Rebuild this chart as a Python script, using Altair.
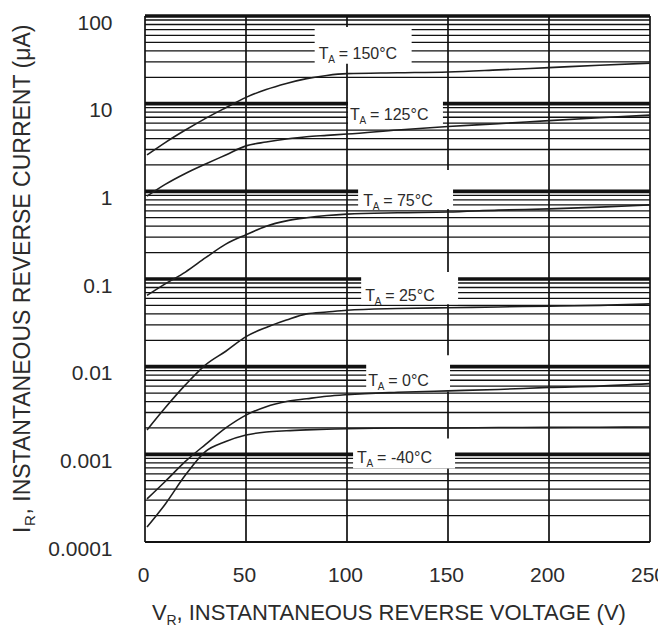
import altair as alt
import pandas as pd

# ---- data -------------------------------------------------------------------
volts = [1, 10, 20, 30, 40, 50, 60, 70, 80, 90, 100, 125, 150, 175, 200, 225, 250]
i_150 = [2.6, 3.6, 5.0, 6.8, 9.0, 11.8, 14.5, 17.0, 19.3, 21.0, 22.0, 22.5, 23.0, 24.3, 25.8, 27.4, 29.0]
i_125 = [0.88, 1.2, 1.6, 2.05, 2.6, 3.3, 3.65, 3.95, 4.2, 4.35, 4.5, 5.0, 5.5, 5.9, 6.4, 6.9, 7.4]
i_75 = [0.065, 0.088, 0.12, 0.175, 0.25, 0.32, 0.40, 0.46, 0.50, 0.53, 0.55, 0.57, 0.58, 0.61, 0.63, 0.66, 0.70]
i_25 = [0.0019, 0.0034, 0.0062, 0.0105, 0.015, 0.022, 0.028, 0.034, 0.040, 0.042, 0.044, 0.046, 0.047, 0.048, 0.049, 0.050, 0.052]
i_0 = [0.00031, 0.00049, 0.00083, 0.0013, 0.0020, 0.0028, 0.0035, 0.0040, 0.0043, 0.0046, 0.0048, 0.0051, 0.0053, 0.0055, 0.0058, 0.0060, 0.0064]
i_m40 = [0.000148, 0.00027, 0.00058, 0.00108, 0.0014, 0.00166, 0.0018, 0.00186, 0.0019, 0.00193, 0.00196, 0.0020, 0.0020, 0.00202, 0.00203, 0.00204, 0.00205]
temps = ["150", "125", "75", "25", "0", "-40"]
series = [i_150, i_125, i_75, i_25, i_0, i_m40]

# curve labels (T_A = ...) and the white boxes behind them
label_rest = ["= 150°C", "= 125°C", "= 75°C", "= 25°C", "= 0°C", "= -40°C"]
label_v = [86, 101.5, 108, 109, 110.5, 105]
label_i = [36.8, 7.41, 0.773, 0.0637, 0.00681, 0.0009]
box_v0 = [84, 100.5, 105.5, 107, 109.5, 103]
box_v1 = [132, 147.5, 152.5, 155, 151, 153.5]
box_top = [75, 10.7, 1.75, 0.12, 0.0135, 0.00152]
box_bottom = [28.5, 5.26, 0.627, 0.0515, 0.0052, 0.00069]

x_ticks = [0, 50, 100, 150, 200, 250]
y_ticks = [0.0001, 0.001, 0.01, 0.1, 1, 10, 100]
minor_vals = [m * 10.0 ** e for e in range(-4, 2) for m in range(2, 10)]
decade_vals = [0.001, 0.01, 0.1, 1, 10, 100]
bottom_vals = [0.0001]

# ---- tables ------------------------------------------------------------------
rows = []
for t, vals in zip(temps, series):
    for v, i in zip(volts, vals):
        rows.append({"temp": t, "v": v, "i": i})
curves_df = pd.DataFrame(rows)
labels_df = pd.DataFrame({"rest": label_rest, "v": label_v, "i": label_i})
boxes_df = pd.DataFrame({"v": box_v0, "v1": box_v1, "i": box_top, "i1": box_bottom})

FONT = "Liberation Sans"
INK = "#111111"
TXT = "#2b2b2b"

x_scale = alt.Scale(domain=[0, 250], nice=False, zero=False)
y_scale = alt.Scale(type="log", domain=[0.0001, 100], nice=False)

x_axis = alt.Axis(values=x_ticks, title=None, domain=False, ticks=False, tickSize=0,
                  grid=False, labelFont=FONT, labelFontSize=21, labelColor=TXT,
                  labelPadding=22, labelOffset=-2, labelFlush=False, labelOverlap=False,
                  labelBound=False)
y_axis = alt.Axis(values=y_ticks, format=".4~f", title=None, domain=False, ticks=False,
                  tickSize=0, grid=False, labelFont=FONT, labelFontSize=21, labelColor=TXT,
                  labelPadding=33, labelOffset=7, labelOverlap=False, labelBound=False)

X = alt.X("v:Q", scale=x_scale, axis=x_axis)
Y = alt.Y("i:Q", scale=y_scale, axis=y_axis)

grid_minor = alt.Chart(pd.DataFrame({"i": minor_vals})).mark_rule(
    color=INK, strokeWidth=1.3).encode(y=Y)
grid_decade = alt.Chart(pd.DataFrame({"i": decade_vals})).mark_rule(
    color=INK, strokeWidth=3.6).encode(y=Y)
grid_bottom = alt.Chart(pd.DataFrame({"i": bottom_vals})).mark_rule(
    color=INK, strokeWidth=2).encode(y=Y)
grid_v = alt.Chart(pd.DataFrame({"v": x_ticks})).mark_rule(
    color=INK, strokeWidth=1.7).encode(x=X)

boxes = alt.Chart(boxes_df).mark_rect(color="white").encode(
    x=X, x2="v1:Q", y=Y, y2="i1:Q")

curves = alt.Chart(curves_df).mark_line(
    color="#1e1e1e", strokeWidth=1.6, interpolate="monotone").encode(
    x=X, y=Y, detail="temp:N")

lab_base = alt.Chart(labels_df).encode(x=X, y=Y)
lab_T = lab_base.mark_text(text="T", align="left", baseline="middle",
                           font=FONT, fontSize=16, color=TXT)
lab_A = lab_base.mark_text(text="A", align="left", baseline="middle",
                           font=FONT, fontSize=10, color=TXT, dx=9.5, dy=6)
lab_rest = lab_base.mark_text(align="left", baseline="middle", font=FONT,
                              fontSize=16, color=TXT, dx=20).encode(text="rest:N")

one = pd.DataFrame({"k": [0]})
XT_X, XT_Y = 7, 604
# x-axis title: V_R, INSTANTANEOUS REVERSE VOLTAGE (V)
xt1 = alt.Chart(one).mark_text(text="V", align="left", baseline="alphabetic",
                               font=FONT, fontSize=22, color=TXT).encode(
    x=alt.value(XT_X), y=alt.value(XT_Y))
xt2 = alt.Chart(one).mark_text(text="R", align="left", baseline="alphabetic",
                               font=FONT, fontSize=14, color=TXT, dx=14.5, dy=5).encode(
    x=alt.value(XT_X), y=alt.value(XT_Y))
xt3 = alt.Chart(one).mark_text(text=", INSTANTANEOUS REVERSE VOLTAGE (V)", align="left",
                               baseline="alphabetic", font=FONT, fontSize=22,
                               color=TXT, dx=24.5).encode(
    x=alt.value(XT_X), y=alt.value(XT_Y))
# y-axis title: I_R, INSTANTANEOUS REVERSE CURRENT (μA)
YT_X, YT_Y = -115, 517
yt1 = alt.Chart(one).mark_text(text="I", align="left", baseline="alphabetic", angle=270,
                               font=FONT, fontSize=23, color=TXT).encode(
    x=alt.value(YT_X), y=alt.value(YT_Y))
yt2 = alt.Chart(one).mark_text(text="R", align="left", baseline="alphabetic", angle=270,
                               font=FONT, fontSize=15, color=TXT, dx=7, dy=5).encode(
    x=alt.value(YT_X), y=alt.value(YT_Y))
yt3 = alt.Chart(one).mark_text(text=", INSTANTANEOUS REVERSE CURRENT (μA)", align="left",
                               baseline="alphabetic", angle=270, font=FONT, fontSize=23,
                               color=TXT, dx=18.5).encode(
    x=alt.value(YT_X), y=alt.value(YT_Y))

chart = alt.layer(
    grid_minor, grid_decade, grid_bottom, grid_v, boxes, curves,
    lab_T, lab_A, lab_rest, xt1, xt2, xt3, yt1, yt2, yt3
).properties(
    width=505, height=526,
    autosize=alt.AutoSizeParams(type="none"),
    padding={"left": 137, "top": 8, "right": 8, "bottom": 86},
    background="white",
).configure_view(stroke=None)

chart.save("out.html", embed_options={"renderer": "svg", "actions": False})
